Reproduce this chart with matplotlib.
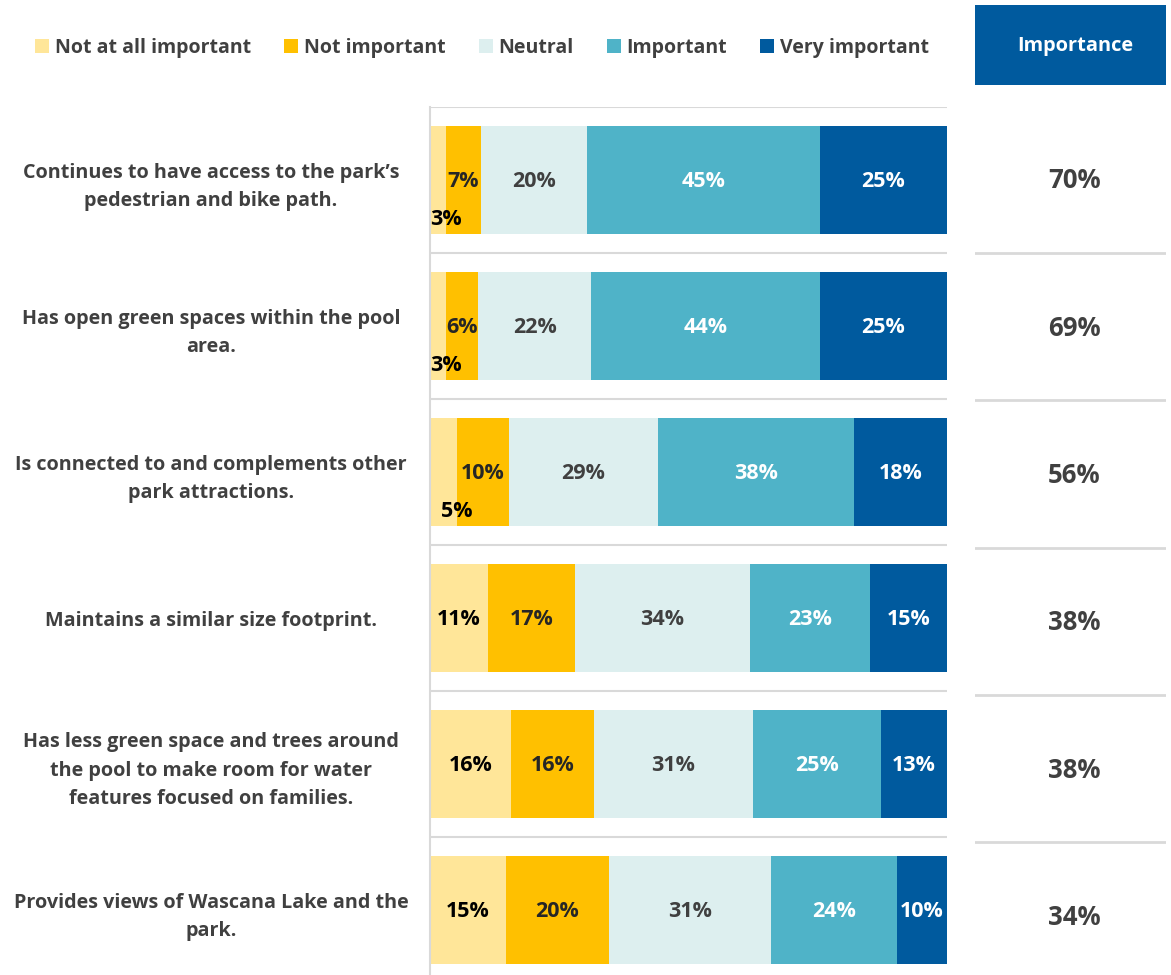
import matplotlib.pyplot as plt
from matplotlib.patches import Patch, Rectangle

plt.rcParams['font.family'] = ['Open Sans', 'DejaVu Sans']
plt.rcParams['font.weight'] = 'bold'

categories = [
    "Continues to have access to the park\u2019s\npedestrian and bike path.",
    "Has open green spaces within the pool\narea.",
    "Is connected to and complements other\npark attractions.",
    "Maintains a similar size footprint.",
    "Has less green space and trees around\nthe pool to make room for water\nfeatures focused on families.",
    "Provides views of Wascana Lake and the\npark.",
]
levels = ["Not at all important", "Not important", "Neutral", "Important", "Very important"]

not_at_all = [3.1, 3.1, 5.2, 11.2, 15.7, 14.7]
not_important = [6.8, 6.2, 10.1, 16.8, 16.1, 19.9]
neutral = [20.4, 21.9, 28.8, 33.8, 30.6, 31.3]
important = [45.1, 44.2, 37.9, 23.4, 24.8, 24.4]
very_important = [24.6, 24.6, 18.0, 14.8, 12.8, 9.7]
importance = [70, 69, 56, 38, 38, 34]

series = [not_at_all, not_important, neutral, important, very_important]
colors = ['#FFE699', '#FFC000', '#DDEFEF', '#4FB3C8', '#005A9E']
label_colors = ['#000000', '#262626', '#404040', 'white', 'white']
text_gray = '#404040'
grid_gray = '#D9D9D9'

W, H = 1171, 975
fig = plt.figure(figsize=(W / 100, H / 100), dpi=100)


def fbox(x0, y0, x1, y1):
    # pixel box (top-left origin) -> figure coords
    return [x0 / W, 1 - y1 / H, (x1 - x0) / W, (y1 - y0) / H]


ax = fig.add_axes(fbox(430, 107, 947, 983))
n = len(categories)
ypos = list(range(n))
left = [0.0] * n
for s, vals in enumerate(series):
    ax.barh(ypos, vals, left=left, height=0.74, color=colors[s], edgecolor='none', zorder=2)
    for i, v in enumerate(vals):
        txt = f"{round(v)}%"
        if v < 6 and s == 0:
            # tiny first segment: label pushed below, on the segment edge
            ax.text(left[i] + v, i + 0.27, txt, ha='center', va='center',
                    fontsize=15.5, color=label_colors[s], zorder=3)
        else:
            ax.text(left[i] + v / 2, i + 0.01, txt, ha='center', va='center',
                    fontsize=15.5, color=label_colors[s], zorder=3)
        left[i] += v

ax.set_xlim(0, 100)
ax.set_ylim(n - 0.5, -0.5)
for k in range(n + 1):
    ax.axhline(k - 0.5, color=grid_gray, lw=1.5, zorder=1)
ax.set_xticks([])
ax.set_yticks(ypos)
ax.set_yticklabels(categories, fontsize=14.2, color=text_gray, ha='center',
                   linespacing=1.55)
ax.tick_params(axis='y', length=0, pad=(430 - 211) * 0.72)
for side in ['top', 'right', 'bottom']:
    ax.spines[side].set_visible(False)
ax.spines['left'].set_color(grid_gray)
ax.spines['left'].set_linewidth(1.5)

# importance column
ax2 = fig.add_axes(fbox(975, 105.7, 1166, 105.7 + 6 * 147.3))
ax2.set_xlim(0, 1)
ax2.set_ylim(n - 0.5, -0.5)
for k in range(1, n + 1):
    ax2.axhline(k - 0.5, color=grid_gray, lw=2)
for i, v in enumerate(importance):
    ax2.text(0.52, i + 0.01, f"{v}%", ha='center', va='center', fontsize=18.5, color=text_gray)
ax2.axis('off')

fig.add_artist(Rectangle((975 / W, 1 - 85 / H), 191 / W, 80 / H,
                         transform=fig.transFigure, facecolor='#005A9E', edgecolor='none'))
fig.text(1075 / W, 1 - 46 / H, "Importance", ha='center', va='center',
         fontsize=14.4, color='white')

handles = [Patch(facecolor=c, edgecolor='none') for c in colors]
fig.legend(handles, levels, loc='center left', bbox_to_anchor=(35 / W, 1 - 48 / H),
           ncol=5, frameon=False, fontsize=14, handlelength=0.72, handleheight=0.72,
           handletextpad=0.3, columnspacing=1.7, borderpad=0, borderaxespad=0,
           labelcolor=text_gray)

fig.savefig('out.png', dpi=100)
